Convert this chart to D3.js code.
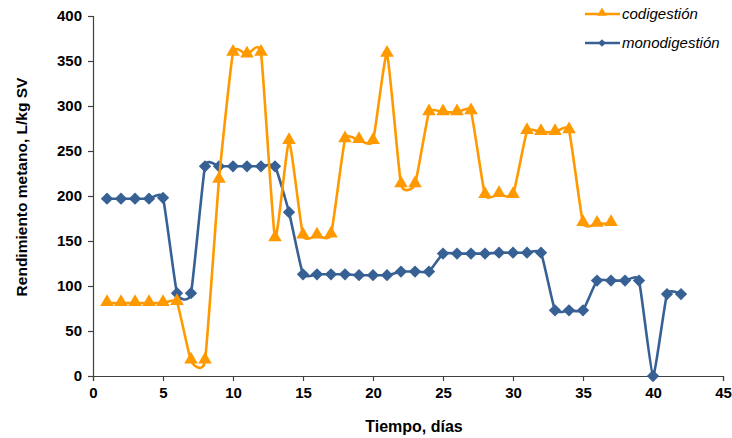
<!DOCTYPE html>
<html>
<head>
<meta charset="utf-8">
<script src="https://cdn.jsdelivr.net/npm/d3@7"></script>
<style>
  html, body { margin: 0; padding: 0; background: #fff; }
  svg { display: block; font-family: "Liberation Sans", Arial, sans-serif; }
</style>
</head>
<body>
<svg id="chart" width="732" height="438"></svg>
<script>
// Methane yield per day for each digestion mode
const coDays = d3.range(1, 38);
const coValues = [81, 81, 81, 81, 81, 82, 17, 17, 218, 359, 357, 359, 153, 261, 156,
                  156, 157, 263, 262, 261, 358, 213, 213, 293, 293, 293, 294, 201, 202, 201,
                  272, 271, 271, 273, 170, 169, 170];
const monoDays = d3.range(1, 43);
const monoValues = [197, 197, 197, 197, 198, 92, 92, 233, 233, 233, 233, 233, 233, 182,
                    113, 113, 113, 113, 112, 112, 112, 116, 116, 116, 136, 136, 136, 136,
                    137, 137, 137, 137, 73, 73, 73, 106, 106, 106, 106, 0, 91, 91];
const xTicks = d3.range(0, 46, 5);
const yTicks = d3.range(0, 401, 50);
const seriesNames = ["codigestión", "monodigestión"];
const seriesColors = ["#FF9900", "#376194"];

const svg = d3.select("#chart");
const x = d3.scaleLinear().domain([0, 45]).range([93, 723]);
const y = d3.scaleLinear().domain([0, 400]).range([376, 16]);

// Axes
const yAxis = svg.append("g").attr("transform", `translate(${x(0)},0)`)
  .call(d3.axisLeft(y).tickValues(yTicks).tickSize(5).tickPadding(6));
const xAxis = svg.append("g").attr("transform", `translate(0,${y(0)})`)
  .call(d3.axisBottom(x).tickValues(xTicks).tickSize(5).tickPadding(6));
[xAxis, yAxis].forEach(g => {
  g.select(".domain").attr("stroke", "#404040").attr("stroke-width", 1.2);
  g.selectAll(".tick line").attr("stroke", "#404040").attr("stroke-width", 1.2);
  g.selectAll(".tick text").attr("fill", "#000").attr("font-size", 15)
    .attr("font-weight", "bold").attr("font-family", "Liberation Sans, Arial, sans-serif");
});

// Axis titles
svg.append("text").attr("x", 414).attr("y", 432).attr("text-anchor", "middle")
  .attr("font-size", 16).attr("font-weight", "bold").text("Tiempo, días");
svg.append("text").attr("transform", "translate(27,187) rotate(-90)")
  .attr("text-anchor", "middle").attr("font-size", 15.5).attr("font-weight", "bold")
  .text("Rendimiento metano, L/kg SV");

const line = d3.line().curve(d3.curveCardinal.tension(0.55))
  .x(d => x(d[0])).y(d => y(d[1]));

const triangle = d3.symbol().type(d3.symbolTriangle).size(80);
const diamond = d3.symbol().type(d3.symbolSquare).size(76);

function drawMarker(sel, kind, color) {
  if (kind === 0) {
    sel.append("path").attr("d", triangle).attr("fill", color)
      .attr("transform", d => `translate(${x(d[0])},${y(d[1]) - 1})`);
  } else {
    sel.append("path").attr("d", diamond).attr("fill", color)
      .attr("transform", d => `translate(${x(d[0])},${y(d[1])}) rotate(45)`);
  }
}

// Monodigestión series
const monoData = monoDays.map((d, i) => [d, monoValues[i]]);
svg.append("path").datum(monoData).attr("d", line).attr("fill", "none")
  .attr("stroke", seriesColors[1]).attr("stroke-width", 2.6);
drawMarker(svg.append("g").selectAll("g").data(monoData).join("g"), 1, seriesColors[1]);

// Codigestión series
const coData = coDays.map((d, i) => [d, coValues[i]]);
svg.append("path").datum(coData).attr("d", line).attr("fill", "none")
  .attr("stroke", seriesColors[0]).attr("stroke-width", 2.6);
drawMarker(svg.append("g").selectAll("g").data(coData).join("g"), 0, seriesColors[0]);

// Legend
const legend = svg.append("g");
seriesNames.forEach((name, i) => {
  const ly = 14 + i * 29;
  legend.append("line").attr("x1", 585).attr("x2", 620).attr("y1", ly).attr("y2", ly)
    .attr("stroke", seriesColors[i]).attr("stroke-width", 2.6);
  if (i === 0) {
    legend.append("path").attr("d", d3.symbol().type(d3.symbolTriangle).size(40))
      .attr("fill", seriesColors[i]).attr("transform", `translate(602,${ly - 1})`);
  } else {
    legend.append("path").attr("d", d3.symbol().type(d3.symbolSquare).size(30))
      .attr("fill", seriesColors[i]).attr("transform", `translate(602,${ly}) rotate(45)`);
  }
  legend.append("text").attr("x", 622).attr("y", ly + 5).attr("font-size", 15)
    .attr("font-style", "italic").attr("fill", "#000").text(name);
});
</script>
</body>
</html>
